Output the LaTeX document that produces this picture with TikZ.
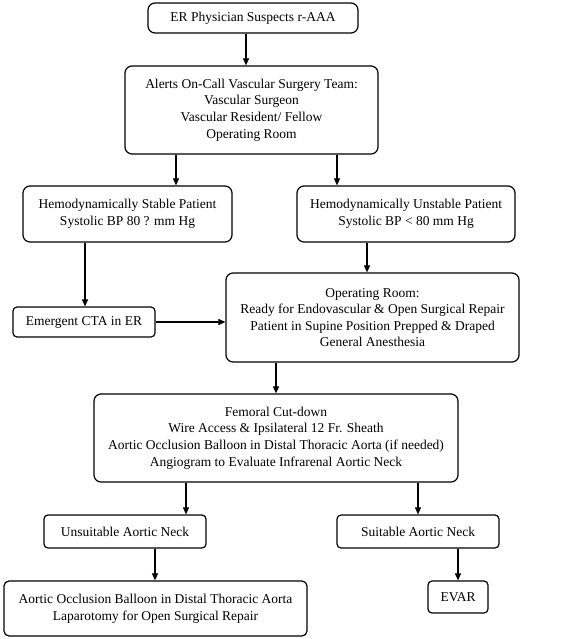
\documentclass[tikz,border=0pt]{standalone}
\usepackage{fontspec}
\setmainfont{Liberation Serif}
\usetikzlibrary{arrows.meta}
\begin{document}
\begin{tikzpicture}[x=1pt,y=-1pt,
  box/.style={draw=black,line width=1.2pt,rounded corners=7pt,align=center,
    inner sep=0pt,font=\fontsize{13.5}{16.6}\selectfont},
  arr/.style={draw=black,line width=1.1pt,-{Triangle[length=7pt,width=6pt]}}]
\useasboundingbox (0,0) rectangle (567,639);
\node[box,minimum width=210pt,minimum height=30pt] (b1) at (253,18) {ER Physician Suspects r-AAA};
\node[box,minimum width=253pt,minimum height=88pt] (b2) at (251.5,110) {Alerts On-Call Vascular Surgery Team:\\Vascular Surgeon\\Vascular Resident/ Fellow\\Operating Room};
\node[box,minimum width=209pt,minimum height=56pt] (b3) at (127.5,214) {Hemodynamically Stable Patient\\Systolic BP 80 ? mm Hg};
\node[box,minimum width=218pt,minimum height=56pt] (b4) at (406,214) {Hemodynamically Unstable Patient\\Systolic BP < 80 mm Hg};
\node[box,minimum width=142pt,minimum height=30pt,rounded corners=4pt] (cta) at (84,322) {Emergent CTA in ER};
\node[box,minimum width=293pt,minimum height=89pt] (or) at (372.5,317.5) {Operating Room:\\Ready for Endovascular \& Open Surgical Repair\\Patient in Supine Position Prepped \& Draped\\General Anesthesia};
\node[box,minimum width=364pt,minimum height=88pt] (fem) at (276,438) {Femoral Cut-down\\Wire Access \& Ipsilateral 12 Fr. Sheath\\Aortic Occlusion Balloon in Distal Thoracic Aorta (if needed)\\Angiogram to Evaluate Infrarenal Aortic Neck};
\node[box,minimum width=162pt,minimum height=33pt,rounded corners=4pt] (uns) at (125,531.5) {Unsuitable Aortic Neck};
\node[box,minimum width=162pt,minimum height=33pt,rounded corners=4pt] (suit) at (418,531.5) {Suitable Aortic Neck};
\node[box,minimum width=303pt,minimum height=55pt,rounded corners=5pt] (fin) at (155.5,608.5) {Aortic Occlusion Balloon in Distal Thoracic Aorta\\Laparotomy for Open Surgical Repair};
\node[box,minimum width=60pt,minimum height=32pt,rounded corners=4pt] (evar) at (458,597) {EVAR};
\draw[arr] (b1.south -| 246,0) -- (b2.north -| 246,0);
\draw[arr] (b2.south -| 176,0) -- (b3.north -| 176,0);
\draw[arr] (b2.south -| 337,0) -- (b4.north -| 337,0);
\draw[arr] (b3.south -| 85,0) -- (cta.north -| 85,0);
\draw[arr] (b4.south -| 367,0) -- (or.north -| 367,0);
\draw[arr] (cta.east) -- (cta.east -| or.west);
\draw[arr] (or.south -| 276,0) -- (fem.north -| 276,0);
\draw[arr] (fem.south -| 186,0) -- (uns.north -| 186,0);
\draw[arr] (fem.south -| 418,0) -- (suit.north -| 418,0);
\draw[arr] (uns.south -| 155,0) -- (fin.north -| 155,0);
\draw[arr] (suit.south -| 458,0) -- (evar.north -| 458,0);
\end{tikzpicture}
\end{document}
